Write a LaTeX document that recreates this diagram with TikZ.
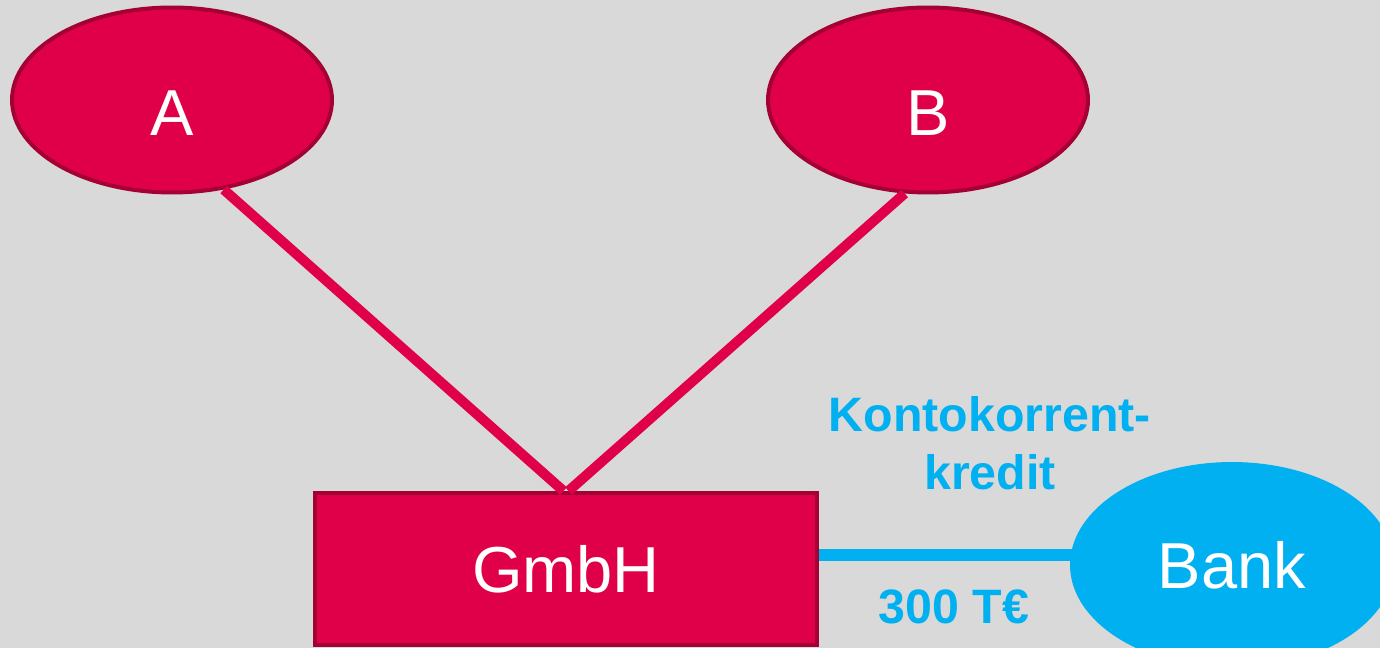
\documentclass[tikz,border=0pt]{standalone}
\usepackage{fontspec}
\setmainfont{Liberation Sans}
\usetikzlibrary{shapes.geometric}
\definecolor{bgc}{HTML}{D9D9D9}
\definecolor{redf}{HTML}{E0004A}
\definecolor{redb}{HTML}{A50034}
\definecolor{bluef}{HTML}{00B0F0}
\begin{document}
\begin{tikzpicture}[x=0.02cm,y=-0.02cm,
  partner/.style={ellipse,fill=redf,draw=redb,line width=0.08cm,inner sep=0pt,
    minimum width=6.4cm,minimum height=3.7cm,text=white,font=\fontsize{37}{44}\selectfont},
  firm/.style={rectangle,fill=redf,draw=redb,line width=0.08cm,inner sep=0pt,
    minimum width=10.04cm,minimum height=3.04cm,text=white,font=\fontsize{37}{44}\selectfont},
  bankst/.style={ellipse,fill=bluef,inner sep=0pt,
    minimum width=6.48cm,minimum height=4.12cm,text=white,font=\fontsize{37}{44}\selectfont},
  redline/.style={draw=redf,line width=0.2cm},
  blueline/.style={draw=bluef,line width=0.24cm},
  lbl/.style={text=bluef,font=\bfseries\fontsize{27.5}{33}\selectfont,align=center,inner sep=0pt}]
\useasboundingbox (0,0) rectangle (1380,648);
\fill[bgc] (0,0) rectangle (1380,648);
\clip (0,0) rectangle (1380,648);
\node[partner] (A) at (172,100) {\raisebox{-0.72cm}[0pt][0pt]{A}};
\node[partner] (B) at (928,100) {\raisebox{-0.72cm}[0pt][0pt]{B}};
\node[firm] (G) at (566,569) {GmbH};
\coordinate (yl) at (0,555);
\draw[blueline] (G.east |- yl) -- (1100,555);
\node[bankst] (Bank) at (1232,565) {Bank};
\draw[redline] (A.-60) -- ([xshift=-0.05cm]G.north);
\draw[redline] (B.-104) -- ([xshift=0.05cm]G.north);
\node[lbl] (k) at (990,443) {Kontokorrent-\\kredit};
\node[lbl] (t) at (954,607) {300 T€};
\end{tikzpicture}
\end{document}
